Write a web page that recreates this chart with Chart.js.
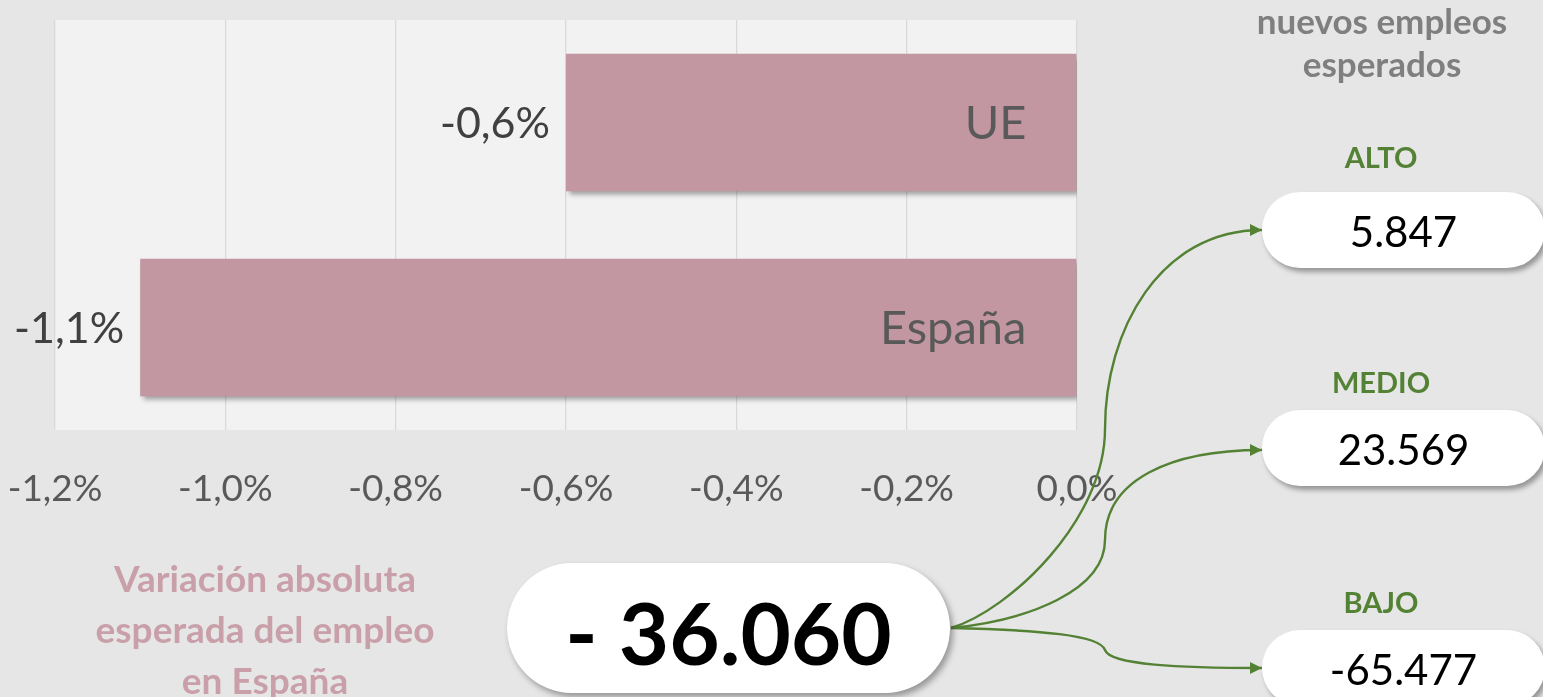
<!DOCTYPE html>
<html lang="es">
<head>
    <meta charset="UTF-8">
    <title>Variación esperada del empleo</title>
    <style>
        html, body {
            margin: 0;
            padding: 0;
            width: 1543px;
            height: 697px;
            overflow: hidden;
            background: #e6e6e6;
            font-family: Lato, "Open Sans", sans-serif;
        }
        #wrap {
            position: absolute;
            left: 0;
            top: 0;
            width: 1543px;
            height: 697px;
        }
        .head {
            position: absolute;
            left: 1222px;
            top: -1px;
            width: 320px;
            text-align: center;
            font-weight: bold;
            font-size: 35px;
            line-height: 43px;
            color: #7f7f7f;
        }
        .scen {
            position: absolute;
            left: 1281px;
            width: 200px;
            text-align: center;
            font-weight: bold;
            font-size: 29px;
            line-height: 34px;
            color: #548235;
        }
        .pill {
            position: absolute;
            left: 1262px;
            width: 283px;
            height: 76px;
            border-radius: 38px;
            background: #fff;
            box-shadow: 3px 4px 5px rgba(0, 0, 0, 0.35);
            text-align: center;
            font-size: 42px;
            line-height: 78px;
            color: #000;
        }
        .caption {
            position: absolute;
            left: 45px;
            top: 552px;
            width: 440px;
            text-align: center;
            font-weight: bold;
            font-size: 37px;
            line-height: 51px;
            color: #c9a0aa;
        }
        .total {
            position: absolute;
            left: 507px;
            top: 563px;
            width: 443px;
            height: 130px;
            border-radius: 65px;
            background: #fff;
            box-shadow: 3px 4px 6px rgba(0, 0, 0, 0.35);
            text-align: center;
            font-weight: bold;
            font-size: 87px;
            line-height: 138px;
            color: #000;
        }
        svg {
            position: absolute;
            left: 0;
            top: 0;
        }
    </style>
    <script src="https://cdn.jsdelivr.net/npm/chart.js"></script>
</head>
<body>
    <div id="wrap"><canvas id="chart"></canvas></div>

    <svg width="1543" height="697">
        <defs>
            <marker id="head" viewBox="0 0 10 10" refX="10" refY="5" markerWidth="6" markerHeight="5" orient="auto">
                <path d="M0,0 L10,5 L0,10 z" fill="#548235"></path>
            </marker>
        </defs>
        <g fill="none" stroke="#548235" stroke-width="2.4">
            <path d="M951,628 C1010,610 1105,520 1105,429 C1105,330 1160,230 1262,230" marker-end="url(#head)"></path>
            <path d="M951,628 C1030,620 1105,590 1105,540 C1105,480 1170,450 1262,450" marker-end="url(#head)"></path>
            <path d="M951,628 C1040,630 1100,635 1105,650 C1110,665 1180,668 1262,668" marker-end="url(#head)"></path>
        </g>
    </svg>

    <div class="head">nuevos empleos<br>esperados</div>
    <div class="caption">Variación absoluta<br>esperada del empleo<br>en España</div>
    <div class="total" id="total"></div>
    <div id="scenarios"></div>

    <script>
        // Datos
        const categories = ['UE', 'España'];
        const variation = [-0.6, -1.1];      // variación del empleo (%)
        const xMin = -1.2;
        const xMax = 0;
        const xStep = 0.2;

        const scenarios = ['ALTO', 'MEDIO', 'BAJO'];
        const scenarioJobs = ['5.847', '23.569', '-65.477'];
        const totalJobs = '- 36.060';

        const fmt = v => v.toFixed(1).replace('.', ',') + '%';

        // Cajas de la derecha
        const labelTops = [140, 365, 585];
        const pillTops = [192, 410, 630];
        const holder = document.getElementById('scenarios');
        scenarios.forEach((name, i) => {
            const lab = document.createElement('div');
            lab.className = 'scen';
            lab.style.top = labelTops[i] + 'px';
            lab.textContent = name;
            holder.appendChild(lab);
            const pill = document.createElement('div');
            pill.className = 'pill';
            pill.style.top = pillTops[i] + 'px';
            pill.textContent = scenarioJobs[i];
            holder.appendChild(pill);
        });
        document.getElementById('total').textContent = totalJobs;

        // Fondo del área de trazado
        const plotBg = {
            id: 'plotBg',
            beforeDraw(chart) {
                const { ctx, chartArea: a } = chart;
                ctx.save();
                ctx.fillStyle = '#f2f2f2';
                ctx.fillRect(a.left, a.top, a.right - a.left, a.bottom - a.top);
                ctx.restore();
            }
        };

        // Sombra de las barras
        const barShadow = {
            id: 'barShadow',
            beforeDatasetsDraw(chart) {
                const ctx = chart.ctx;
                ctx.save();
                ctx.shadowColor = 'rgba(0,0,0,0.35)';
                ctx.shadowBlur = 5;
                ctx.shadowOffsetX = 3;
                ctx.shadowOffsetY = 4;
            },
            afterDatasetsDraw(chart) {
                chart.ctx.restore();
            }
        };

        // Etiquetas de valor y de categoría
        const barLabels = {
            id: 'barLabels',
            afterDatasetsDraw(chart) {
                const ctx = chart.ctx;
                const meta = chart.getDatasetMeta(0);
                ctx.save();
                ctx.textBaseline = 'middle';
                ctx.textAlign = 'right';
                meta.data.forEach((bar, i) => {
                    const left = Math.min(bar.x, bar.base);
                    const right = Math.max(bar.x, bar.base);
                    ctx.font = '43px Lato';
                    ctx.fillStyle = '#404040';
                    ctx.fillText(fmt(variation[i]), left - 16, bar.y + 2);
                    ctx.font = '47px Lato';
                    ctx.fillStyle = '#595959';
                    ctx.fillText(categories[i], right - 50, bar.y + 1);
                });
                ctx.restore();
            }
        };

        new Chart(document.getElementById('chart'), {
            type: 'bar',
            data: {
                labels: categories,
                datasets: [{
                    data: variation,
                    backgroundColor: '#c297a2',
                    borderWidth: 0,
                    barPercentage: 0.67,
                    categoryPercentage: 1
                }]
            },
            options: {
                indexAxis: 'y',
                responsive: true,
                maintainAspectRatio: false,
                animation: false,
                layout: { padding: { left: 55, right: 466, top: 20, bottom: 177 } },
                plugins: {
                    legend: { display: false },
                    tooltip: { enabled: false }
                },
                scales: {
                    x: {
                        min: xMin,
                        max: xMax,
                        ticks: {
                            stepSize: xStep,
                            padding: 37,
                            color: '#595959',
                            font: { family: 'Lato', size: 37 },
                            callback: v => fmt(v)
                        },
                        grid: { color: '#d9d9d9', lineWidth: 1.3, drawTicks: false },
                        border: { display: false },
                        afterFit: s => {
                            s.height = 90;
                            // the layout padding already leaves room for the end labels
                            s.paddingLeft = 0;
                            s.paddingRight = 0;
                        }
                    },
                    y: { display: false }
                }
            },
            plugins: [plotBg, barShadow, barLabels]
        });
    </script>
</body>
</html>
